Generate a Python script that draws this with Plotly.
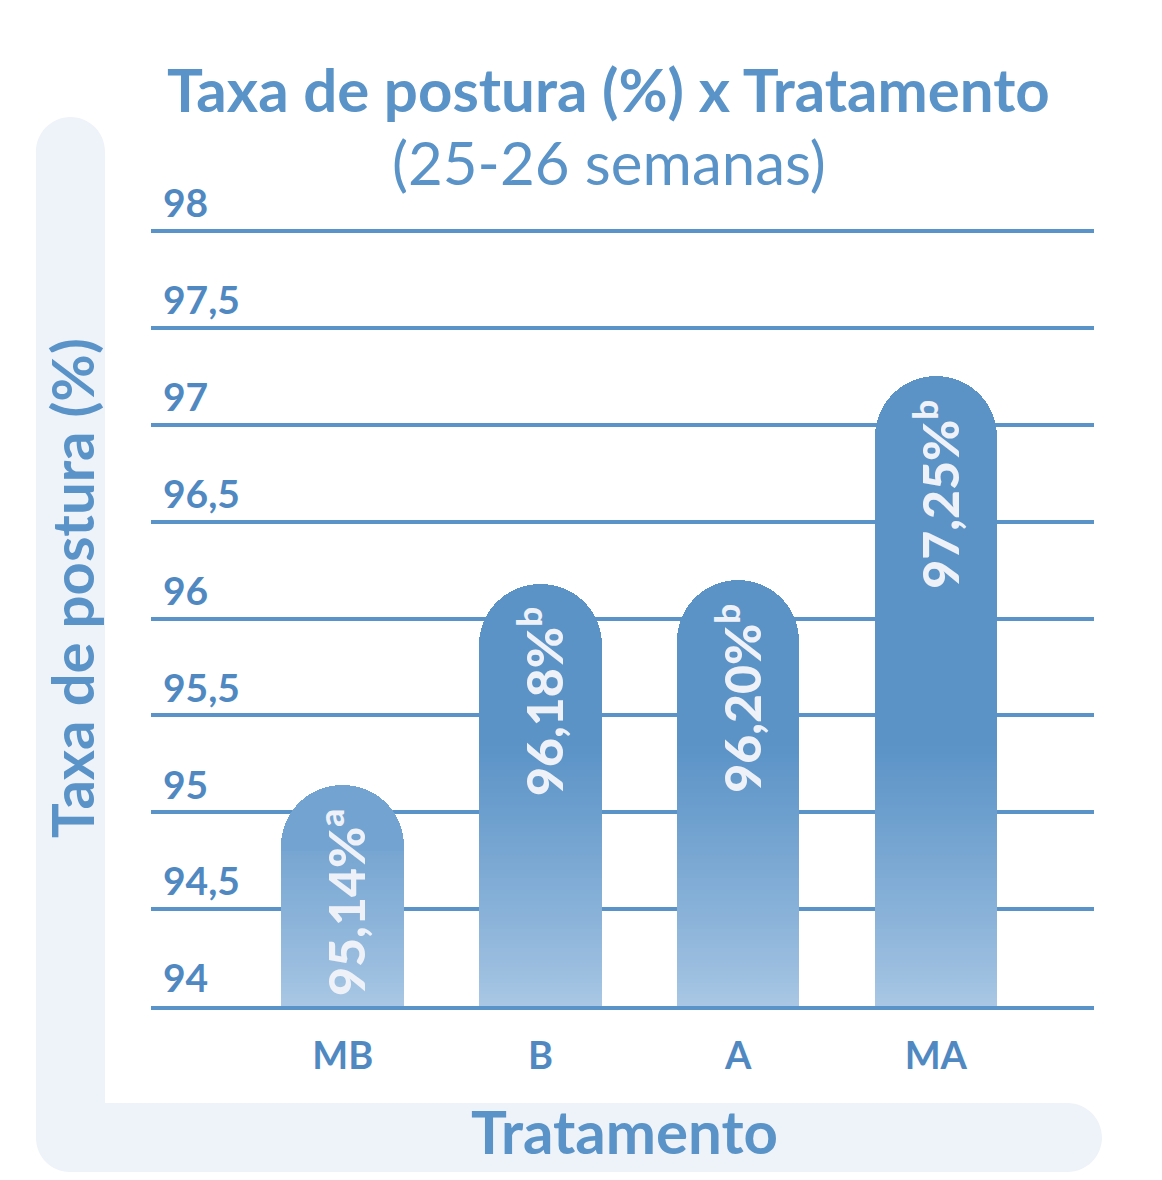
import math
import plotly.graph_objects as go

# ---------------- data ----------------
categories = ["MB", "B", "A", "MA"]
values = [95.14, 96.18, 96.20, 97.25]
letters = ["a", "b", "b", "b"]
y_ticks = [94, 94.5, 95, 95.5, 96, 96.5, 97, 97.5, 98]
y_tick_labels = ["94", "94,5", "95", "95,5", "96", "96,5", "97", "97,5", "98"]

title_text = "Taxa de postura (%) x Tratamento"
subtitle_text = "(25-26 semanas)"
x_title = "Tratamento"
y_title = "Taxa de postura (%)"

# ---------------- style ----------------
FONT = "Lato"
BLUE = "#5a93c7"
TICK_BLUE = "#5089c1"
BAND = "#eef2f9"
TEXT_LIGHT = "#eef2f8"
DARK = (91, 147, 199)
LIGHT = (170, 200, 229)

W, H = 1162, 1180
PX_PER_UNIT = (1006 - 231) / 4
Y0, Y1 = 94, 98.3
PL, PR = 151, 1094
PB = 1006
PT = round(PB - (Y1 - Y0) * PX_PER_UNIT)
X_RANGE = [-0.97, 3.80]
BAR_W = 0.62
GRAD_END = 95.35
CAP = 0.34
STEP = 0.02


def col_at(level):
    t = (level - Y0) / (GRAD_END - Y0)
    t = max(0.0, min(1.0, t)) ** 0.85
    r, g, b = (round(LIGHT[i] + (DARK[i] - LIGHT[i]) * t) for i in range(3))
    return f"rgb({r},{g},{b})"


def px_x(px):
    return (px - PL) / (PR - PL)


def px_y(py):
    return (PB - py) / (PB - PT)


fig = go.Figure()

# gradient bars: stacked thin slices with a rounded top slice
grad_lims = [v - CAP for v in values]
n_slices = int(round((max(grad_lims) - Y0) / STEP)) + 1
for k in range(n_slices):
    lo = Y0 + k * STEP
    hi = lo + STEP
    heights = []
    for g in grad_lims:
        top = min(hi, g)
        bottom = 0 if k == 0 else lo
        heights.append(max(0.0, top - bottom))
    if sum(heights) == 0:
        continue
    fig.add_trace(go.Bar(
        x=categories, y=heights, width=BAR_W,
        marker=dict(color=col_at(lo + STEP / 2), line=dict(width=0)),
        hoverinfo="skip", showlegend=False,
    ))

top_heights = [v - g for v, g in zip(values, grad_lims)]
top_colors = [col_at(g + 0.08) for g in grad_lims]
fig.add_trace(go.Bar(
    x=categories, y=top_heights, width=BAR_W,
    marker=dict(color=top_colors, line=dict(width=0)),
    hoverinfo="skip", showlegend=False,
))

# value labels inside bars (transparent bars on an overlay axis)
labels = [f"{v:.2f}".replace(".", ",") + f"%<sup>{l}</sup>" for v, l in zip(values, letters)]
fig.add_trace(go.Bar(
    x=categories, y=[v - 0.05 for v in values], width=BAR_W,
    xaxis="x2", yaxis="y2",
    marker=dict(color="rgba(0,0,0,0)", line=dict(width=0)),
    text=labels, textposition="inside", insidetextanchor="end",
    textangle=-90, constraintext="none",
    textfont=dict(family=FONT, size=50, color=TEXT_LIGHT, weight=900),
    hoverinfo="skip", showlegend=False,
))

K = 0.5523


def arc(cx, cy, r, start, end):
    a0, a1 = math.radians(start), math.radians(end)
    p0 = (cx + r * math.cos(a0), cy + r * math.sin(a0))
    p3 = (cx + r * math.cos(a1), cy + r * math.sin(a1))
    d = 1 if a1 > a0 else -1
    c1 = (p0[0] - d * K * r * math.sin(a0), p0[1] + d * K * r * math.cos(a0))
    c2 = (p3[0] + d * K * r * math.sin(a1), p3[1] - d * K * r * math.cos(a1))
    f = lambda p: f"{px_x(p[0]):.5f},{px_y(p[1]):.5f}"
    return f" C {f(c1)} {f(c2)} {f(p3)}"


def P(x, y):
    return f"{px_x(x):.5f},{px_y(y):.5f}"


bl, br_, bt = 36, 105, 117
hb_t, hb_b, hb_r = 1103, 1172, 1102
rv = (br_ - bl) / 2
rh = (hb_b - hb_t) / 2
rc = 34
path = f"M {P(bl, bt + rv)}"
path += arc(bl + rv, bt + rv, rv, 180, 270)
path += arc(bl + rv, bt + rv, rv, 270, 360)
path += f" L {P(br_, hb_t)} L {P(hb_r - rh, hb_t)}"
path += arc(hb_r - rh, hb_t + rh, rh, -90, 0)
path += arc(hb_r - rh, hb_t + rh, rh, 0, 90)
path += f" L {P(bl + rc, hb_b)}"
path += arc(bl + rc, hb_b - rc, rc, 90, 180)
path += " Z"

fig.add_shape(type="path", path=path, xref="paper", yref="paper",
              fillcolor=BAND, line=dict(width=0), layer="below")

# titles
fig.add_annotation(text=f"<b>{title_text}</b>", xref="paper", yref="paper",
                   x=px_x(608), y=px_y(89), xanchor="center", yanchor="middle",
                   showarrow=False, font=dict(family=FONT, size=60, color=BLUE))
fig.add_annotation(text=subtitle_text, xref="paper", yref="paper",
                   x=px_x(609), y=px_y(162), xanchor="center", yanchor="middle",
                   showarrow=False, font=dict(family=FONT, size=60, color=BLUE))
fig.add_annotation(text=f"<b>{y_title}</b>", xref="paper", yref="paper",
                   x=px_x(71), y=px_y(588), xanchor="center", yanchor="middle",
                   textangle=-90, showarrow=False,
                   font=dict(family=FONT, size=58, color=BLUE))
fig.add_annotation(text=f"<b>{x_title}</b>", xref="paper", yref="paper",
                   x=px_x(624), y=px_y(1131), xanchor="center", yanchor="middle",
                   showarrow=False, font=dict(family=FONT, size=60, color=BLUE))

fig.update_layout(
    width=W, height=H,
    margin=dict(l=PL, r=W - PR, t=PT, b=H - PB, pad=0),
    paper_bgcolor="white", plot_bgcolor="rgba(0,0,0,0)",
    barmode="stack", bargap=0, barcornerradius="50%",
    showlegend=False,
    xaxis=dict(range=X_RANGE, showgrid=False, zeroline=False,
               showline=True, linecolor=BLUE, linewidth=4,
               ticks="", ticklabelstandoff=13,
               tickfont=dict(family=FONT, size=38, color=TICK_BLUE, weight="bold"),
               fixedrange=True),
    yaxis=dict(range=[Y0, Y1], tickvals=y_ticks, ticktext=y_tick_labels,
               showgrid=True, gridcolor=BLUE, gridwidth=4, zeroline=False,
               showline=False, ticks="", ticklabelposition="inside top",
               ticklabelstandoff=9,
               tickfont=dict(family=FONT, size=39, color=TICK_BLUE, weight="bold"),
               fixedrange=True),
    xaxis2=dict(overlaying="x", range=X_RANGE, visible=False, fixedrange=True),
    yaxis2=dict(overlaying="y", range=[Y0, Y1], visible=False, fixedrange=True),
)

fig.write_html("out.html")
